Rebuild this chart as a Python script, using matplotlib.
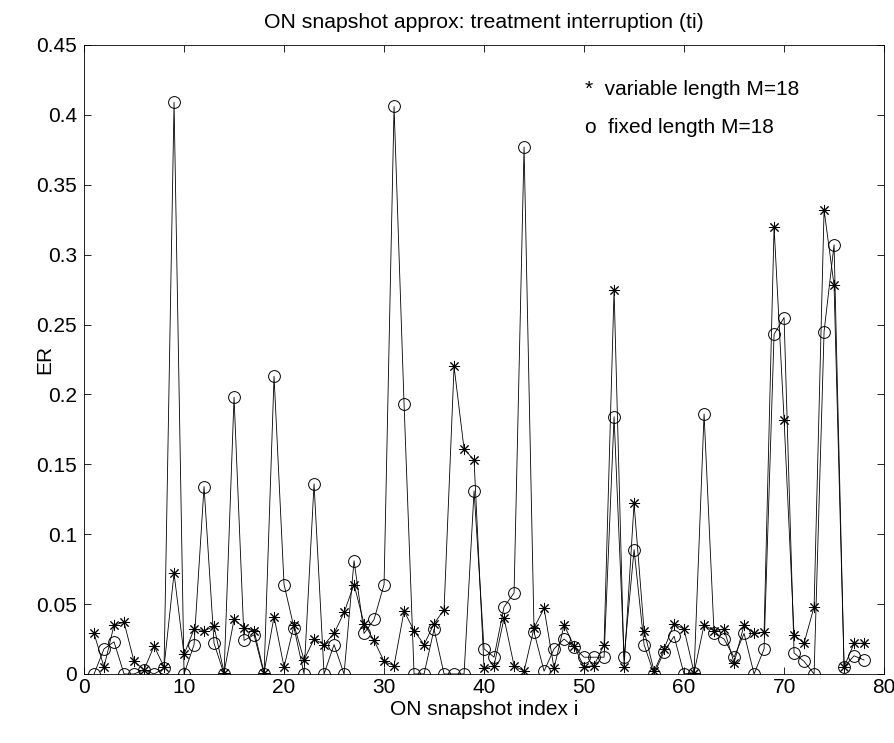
import numpy as np
import matplotlib
matplotlib.use("Agg")
import matplotlib.pyplot as plt

plt.rcParams['font.family'] = ['Liberation Sans', 'DejaVu Sans']

# snapshot index
idx = np.arange(1, 79)

# ER, variable length M=18 (asterisks)
er_var = [0.029, 0.005, 0.035, 0.037, 0.009, 0.003, 0.020, 0.005, 0.072, 0.014,
          0.032, 0.031, 0.034, 0.001, 0.039, 0.033, 0.031, 0.001, 0.041, 0.005,
          0.035, 0.010, 0.025, 0.021, 0.029, 0.044, 0.064, 0.036, 0.024, 0.009,
          0.006, 0.045, 0.031, 0.021, 0.036, 0.046, 0.220, 0.161, 0.153, 0.004,
          0.006, 0.040, 0.006, 0.002, 0.033, 0.047, 0.004, 0.035, 0.020, 0.005,
          0.006, 0.021, 0.275, 0.005, 0.122, 0.031, 0.002, 0.018, 0.036, 0.032,
          0.001, 0.035, 0.031, 0.032, 0.008, 0.035, 0.029, 0.030, 0.320, 0.182,
          0.028, 0.022, 0.048, 0.332, 0.278, 0.005, 0.022, 0.022]

# ER, fixed length M=18 (circles)
er_fix = [0.000, 0.018, 0.023, 0.000, 0.000, 0.003, 0.000, 0.004, 0.409, 0.000,
          0.021, 0.134, 0.022, 0.000, 0.198, 0.024, 0.028, 0.000, 0.213, 0.064,
          0.033, 0.000, 0.136, 0.000, 0.021, 0.000, 0.081, 0.029, 0.039, 0.064,
          0.406, 0.193, 0.000, 0.000, 0.032, 0.000, 0.000, 0.000, 0.131, 0.018,
          0.012, 0.048, 0.058, 0.377, 0.030, 0.002, 0.018, 0.025, 0.019, 0.012,
          0.012, 0.012, 0.184, 0.012, 0.089, 0.021, 0.000, 0.016, 0.027, 0.000,
          0.001, 0.186, 0.029, 0.025, 0.012, 0.029, 0.000, 0.018, 0.243, 0.255,
          0.015, 0.009, 0.000, 0.245, 0.307, 0.005, 0.013, 0.010]

xticks = [0, 10, 20, 30, 40, 50, 60, 70, 80]
yticks = [0, 0.05, 0.1, 0.15, 0.2, 0.25, 0.3, 0.35, 0.4, 0.45]
ytick_labels = ['0', '0.05', '0.1', '0.15', '0.2', '0.25', '0.3', '0.35', '0.4', '0.45']

fs = 15

fig = plt.figure(figsize=(8.95, 7.43), dpi=100)
ax = fig.add_axes([0.0939, 0.0929, 0.8939, 0.8466])

ax.plot(idx, er_var, color='black', linewidth=0.6, marker=(8, 2, 0),
        markersize=8, markeredgewidth=0.7)
ax.plot(idx, er_fix, color='black', linewidth=0.6, marker='o',
        markersize=8.5, fillstyle='none', markeredgewidth=0.7)

ax.set_xlim(0, 80)
ax.set_ylim(0, 0.45)
ax.set_xticks(xticks)
ax.set_yticks(yticks)
ax.set_yticklabels(ytick_labels)
ax.tick_params(direction='in', top=True, right=True, labelsize=fs,
               length=5, width=0.6)
ax.tick_params(axis='x', pad=3)
ax.tick_params(axis='y', pad=5)
for s in ax.spines.values():
    s.set_linewidth(0.6)

ax.set_title('ON snapshot approx: treatment interruption (ti)', fontsize=15.3, pad=12)
ax.set_xlabel('ON snapshot index i', fontsize=fs, va='center')
ax.xaxis.set_label_coords(0.5, -0.056)
ax.set_ylabel('ER', fontsize=fs, va='center')
ax.yaxis.set_label_coords(-0.049, 0.5)

ax.text(50.1, 0.418, '*  variable length M=18', fontsize=fs, va='center')
ax.text(50.1, 0.391, 'o  fixed length M=18', fontsize=fs, va='center')

fig.savefig('out.png', dpi=100)
